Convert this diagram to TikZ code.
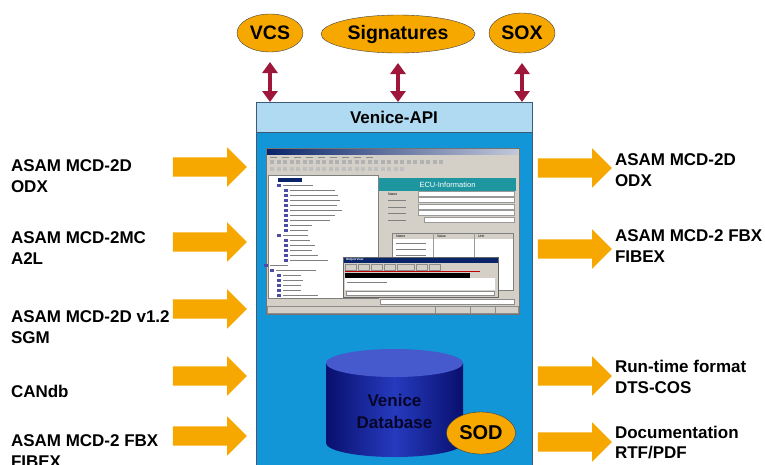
\documentclass[tikz,border=0pt]{standalone}
\usepackage{fontspec}
\setmainfont{Liberation Sans}
\usetikzlibrary{shapes.geometric,shapes.arrows,arrows.meta,positioning}
\definecolor{amber}{RGB}{247,168,0}
\definecolor{wine}{RGB}{158,22,58}
\definecolor{apilight}{RGB}{176,218,242}
\definecolor{apiblue}{RGB}{18,150,216}
\definecolor{frame}{RGB}{60,90,120}
\definecolor{wingray}{RGB}{212,208,200}
\definecolor{winblue}{RGB}{10,36,106}
\definecolor{ecuteal}{RGB}{30,150,160}
\definecolor{dbtop}{RGB}{70,90,205}
\definecolor{dbdark}{RGB}{8,16,110}
\definecolor{dbmid}{RGB}{38,58,190}
\definecolor{dbtext}{RGB}{6,6,42}
\tikzset{
	x=1pt, y=1pt,
	every node/.style = {
		inner sep=0pt,
		outer sep=0pt
	},
	oval/.style = {ellipse, draw=black!75, fill=amber, font=\fontsize{19.5}{22}\selectfont\bfseries},
	fmt/.style = {align=left, anchor=west, font=\fontsize{17}{20.5}\selectfont\bfseries},
	feed/.style = {single arrow, fill=amber, inner ysep=9.5pt, minimum height=74, minimum width=39, single arrow head extend=10},
	link/.style = {draw=wine, line width=4.5pt, {Triangle[width=15pt,length=11pt]}-{Triangle[width=15pt,length=11pt]}, shorten <=10pt},
	apihead/.style = {draw=frame, fill=apilight, minimum width=276, minimum height=30, font=\fontsize{17}{20}\selectfont\bfseries},
	apibody/.style = {draw=frame, fill=apiblue, minimum width=276, minimum height=345},
	shotwin/.style = {draw=black!55, fill=wingray, minimum width=253, minimum height=166},
	tiny/.style = {anchor=west, font=\fontsize{3.5}{4}\selectfont},
	dbname/.style = {align=center, text=dbtext, font=\fontsize{17}{21.5}\selectfont\bfseries}
}
\begin{document}
\begin{tikzpicture}
	\useasboundingbox (0,0) rectangle (765,-464);
	\clip (0,0) rectangle (765,-464);
	\fill[white] (0,0) rectangle (765,-464);

	% Venice box
	\node[apihead] (api) at (394,-117) {Venice-API};
	\node[apibody, below=0pt of api] (body) {};

	% top partners
	\node[oval, minimum width=66, minimum height=38] (vcs) at (270,-33) {VCS};
	\node[oval, minimum width=154, minimum height=38] (sig) at (398,-34) {Signatures};
	\node[oval, minimum width=66, minimum height=40] (sox) at (522,-33) {SOX};
	\draw[link] (vcs) -- (vcs |- api.north);
	\draw[link] (sig) -- (sig |- api.north);
	\draw[link] (sox) -- (sox |- api.north);

	% imports
	\node[fmt] (inodx) at (11,-176) {ASAM MCD-2D\\ODX};
	\node[fmt] (ina2l) at (11,-248) {ASAM MCD-2MC\\A2L};
	\node[fmt] (insgm) at (11,-327) {ASAM MCD-2D v1.2\\SGM};
	\node[fmt] (incandb) at (11,-391) {CANdb};
	\node[fmt] (infibex) at (11,-451) {ASAM MCD-2 FBX\\FIBEX};
	\node[feed] (aodx) at (205,-167) {};
	\node[feed] (aa2l) at (205,-242) {};
	\node[feed] (asgm) at (205,-309) {};
	\node[feed] (acandb) at (205,-376) {};
	\node[feed] (afibex) at (205,-436) {};

	% exports
	\node[feed] (bodx) at (570,-168) {};
	\node[feed] (bfibex) at (570,-249) {};
	\node[feed] (bdts) at (570,-376) {};
	\node[feed] (bdoc) at (570,-442) {};
	\node[fmt] (outodx) at (615,-170) {ASAM MCD-2D\\ODX};
	\node[fmt] (outfibex) at (615,-246) {ASAM MCD-2 FBX\\FIBEX};
	\node[fmt] (outdts) at (615,-377) {Run-time format\\DTS-COS};
	\node[fmt] (outdoc) at (615,-442.5) {Documentation\\RTF/PDF};

	% screenshot
	\node[shotwin] (shot) at (392.5,-231) {};
	\fill[left color=winblue, right color=winblue!25] (267,-149) rectangle (518,-154.5);
	\foreach \x in {270,282,...,366}
		\fill[black!45] (\x,-156.5) rectangle ++(7,-1);
	\foreach \x in {270,276.5,...,440}
		\fill[black!30] (\x,-160) rectangle ++(4,-4);
	\foreach \x in {270,276.5,...,400}
		\fill[black!25] (\x,-167) rectangle ++(4,-4);
	\draw[fill=white, draw=black!50] (268,-175) rectangle (378,-298);
	\fill[winblue] (278,-178) rectangle ++(24,-4);
	\foreach \i/\x/\w in {1/283/30, 2/290/45, 3/290/48, 4/290/50, 5/290/47, 6/290/52, 7/290/45, 8/290/40, 9/290/22, 10/290/18, 11/283/25, 12/290/20, 13/290/25, 14/290/22, 15/290/28, 16/290/38, 17/270/18, 18/276/40, 19/283/18, 20/283/20, 21/283/18, 22/283/18, 23/283/35} {
		\fill[blue!50!black!70] (\x-6,{-178.5-5*\i}) rectangle ++(3.5,-3.5);
		\fill[black!50] (\x,{-180-5*\i}) rectangle ++(\w,-1.2);
	}
	\node[fill=ecuteal, minimum width=137, minimum height=13, text=white, font=\fontsize{7.5}{8}\selectfont] (ecu) at (447.5,-184.5) {ECU-Information};
	\node[tiny] (fname) at (388,-194) {Name};
	\foreach \y in {200,207,213,220}
		\fill[black!50] (388,{-\y+0.5}) rectangle ++(18,-1.2);
	\foreach \y in {194,200,207,213}
		\draw[fill=white, draw=black!40] (418,{-\y+2.6}) rectangle (514,{-\y-2.6});
	\draw[fill=white, draw=black!40] (424,-217.4) rectangle (514,-222.6);
	\draw[fill=white, draw=black!50] (392,-233) rectangle (513,-290);
	\fill[wingray] (392.5,-233.5) rectangle (512.5,-238.5);
	\node[tiny] (tname) at (396,-236) {Name};
	\node[tiny] (tvalue) at (437,-236) {Value};
	\node[tiny] (tunit) at (478,-236) {Unit};
	\draw[black!40] (433,-233) -- (433,-258) (474,-233) -- (474,-258);
	\foreach \y in {243,249,255}
		\fill[black!50] (396,-\y) rectangle ++(30,-1.2);

	% output view
	\draw[fill=wingray, draw=black!60] (343,-257) rectangle (498,-297);
	\fill[winblue] (343.5,-257.5) rectangle (497.5,-262.5);
	\node[tiny, text=white, font=\fontsize{3}{3.5}\selectfont\bfseries] (outview) at (346,-260) {Output View};
	\foreach \x in {345,358,371,384,416,429}
		\draw[black!45] (\x,-264) rectangle ++(11,-6);
	\draw[black!45] (397,-264) rectangle ++(17,-6);
	\fill[red!75!black] (345,-271) rectangle (480,-272.2);
	\fill[black] (345,-273) rectangle (470,-277.5);
	\fill[white] (345,-278) rectangle (495,-290);
	\fill[black!50] (347,-282) rectangle ++(40,-1.2);
	\draw[fill=white, draw=black!45] (346,-291) rectangle (494,-295.5);
	\draw[fill=white, draw=black!45] (380,-299) rectangle (514,-304);

	% status bar
	\draw[black!45] (267,-306) rectangle (518,-313) (435,-306) -- (435,-313) (470,-306) -- (470,-313) (495,-306) -- (495,-313);

	% database
	\shade[left color=dbdark, right color=dbdark, middle color=dbmid] (326,-363) -- (326,-443) arc[start angle=180, end angle=360, x radius=68.5, y radius=14] -- (463,-363) -- cycle;
	\fill[dbtop] (394.5,-363) ellipse[x radius=68.5, y radius=14];
	\node[dbname] (db) at (394.5,-411.5) {Venice\\Database};
	\node[oval, minimum width=69, minimum height=42, font=\fontsize{20}{22}\selectfont\bfseries] (sod) at (481,-433) {SOD};
\end{tikzpicture}
\end{document}
